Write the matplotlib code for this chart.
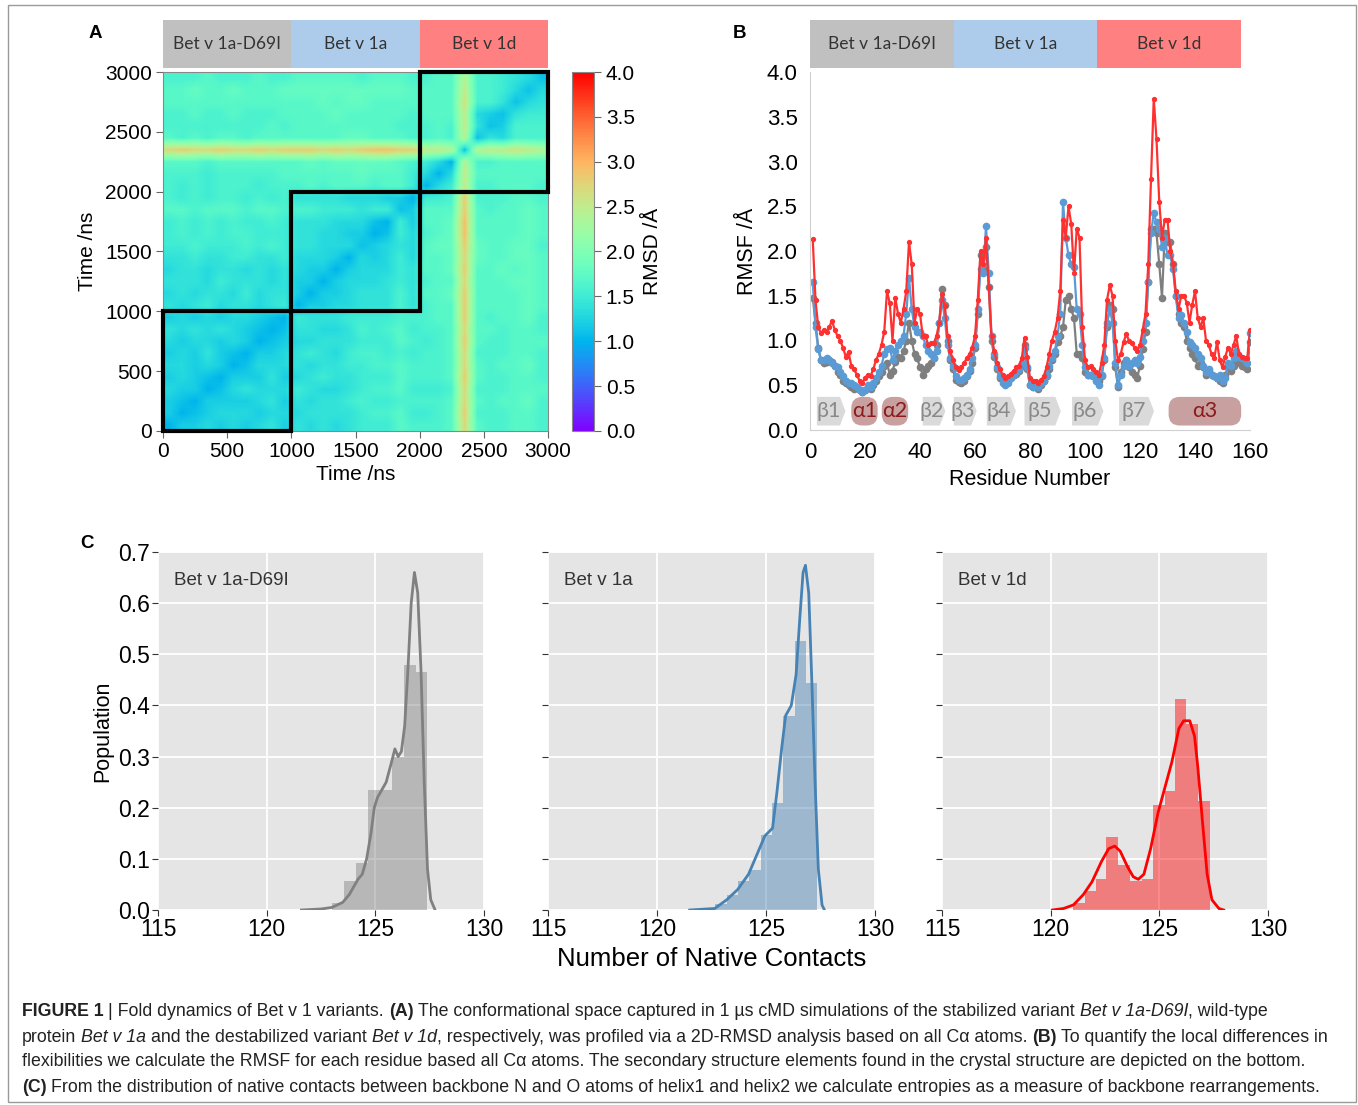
import numpy as np
import matplotlib
matplotlib.use('Agg')
import matplotlib.pyplot as plt
from matplotlib.patches import Rectangle, Polygon, FancyBboxPatch

plt.rcParams['font.family'] = ['Liberation Sans', 'DejaVu Sans']

W, H = 1358, 1105

# ---------------- data ----------------
variants = ['Bet v 1a-D69I', 'Bet v 1a', 'Bet v 1d']
header_colors = ['#C0C0C0', '#ADCBEA', '#FF8080']
block_starts = [0, 1000, 2000]      # ns, each run is 1000 ns
block_len = 1000

# 2D-RMSD, lower triangle, 100 ns bins, value in tenths of Angstrom (base-36 digit)
rmsd_rows = [
    "a",
    "ca",
    "cba",
    "dcca",
    "cdcba",
    "ddcdca",
    "cdcecba",
    "dcddcdca",
    "edededcba",
    "cdcdcddcba",
    "edefdeedef" + "a",
    "dedeedfdee" + "ca",
    "eeedfeeede" + "cca",
    "deedeedede" + "dcca",
    "eefeeffeef" + "dddca",
    "ffgfffgfgf" + "eedddb",
    "fgfgfggfff" + "eeddcca",
    "fgfgfgffgf" + "eeedddba",
    "hhghhhghhg" + "ggfffeffb",
    "gfgfggfgfg" + "eeeedddcca",
    "gfgfgggfgg" + "ghghhhghhf" + "a",
    "gggfgggggh" + "hhhhhihhhf" + "da",
    "hhhghhhhhh" + "hihiiiiihg" + "fda",
    "rsrrsrrsrs" + "ssrsrsttss" + "ppob",
    "hghghhghhh" + "hhhhiihhhg" + "ghgob",
    "gggggggghg" + "hhhhhhhhgg" + "ghgpeb",
    "gghgghgggh" + "hhhihhhhhg" + "hhhpdcb",
    "hhhhhhhhhh" + "hhihiihhhh" + "hhhqggeb",
    "hhihhihhhi" + "iiiiiiiiih" + "hhhpggfdb",
    "ggghggghgg" + "hhhhhghhhg" + "ghhoggfedb",
]

residues = list(range(1, 161))
rmsf_d69i = [1.48, 1.20, 0.92, 0.78, 0.75, 0.76, 0.78, 0.76, 0.72, 0.65,
             0.62, 0.55, 0.52, 0.50, 0.48, 0.46, 0.48, 0.45, 0.43, 0.45,
             0.48, 0.46, 0.50, 0.55, 0.60, 0.65, 0.72, 0.75, 0.62, 0.66,
             0.76, 0.82, 0.80, 0.88, 1.00, 1.20, 1.00, 0.85, 0.80, 0.70,
             0.62, 0.68, 0.72, 0.75, 0.80, 0.95, 1.20, 1.58, 1.40, 1.00,
             0.78, 0.68, 0.56, 0.54, 0.52, 0.55, 0.60, 0.66, 0.75, 0.92,
             1.30, 1.95, 1.80, 2.05, 1.60, 1.00, 0.82, 0.68, 0.58, 0.55,
             0.52, 0.55, 0.60, 0.62, 0.63, 0.66, 0.72, 0.95, 0.68, 0.50,
             0.48, 0.48, 0.46, 0.50, 0.55, 0.60, 0.68, 0.78, 0.85, 0.98,
             1.05, 1.15, 1.45, 1.50, 1.35, 1.25, 0.85, 0.85, 0.80, 0.65,
             0.62, 0.62, 0.60, 0.58, 0.55, 0.60, 0.78, 1.15, 1.40, 1.35,
             0.70, 0.48, 0.65, 0.75, 0.78, 0.70, 0.65, 0.62, 0.58, 0.72,
             0.90, 1.10, 1.65, 2.25, 2.25, 2.20, 1.85, 1.48, 2.20, 2.10,
             2.10, 1.85, 1.50, 1.30, 1.20, 1.15, 1.00, 0.92, 0.85, 0.80,
             0.72, 0.75, 0.70, 0.62, 0.66, 0.62, 0.60, 0.58, 0.55, 0.52,
             0.62, 0.70, 0.66, 0.72, 0.75, 0.78, 0.72, 0.70, 0.68, 0.98]
rmsf_1a = [1.65, 1.15, 0.90, 0.78, 0.78, 0.80, 0.78, 0.75, 0.72, 0.70,
           0.65, 0.60, 0.55, 0.52, 0.52, 0.50, 0.48, 0.45, 0.42, 0.45,
           0.50, 0.48, 0.52, 0.58, 0.65, 0.72, 0.85, 0.90, 0.92, 0.78,
           0.88, 0.95, 1.00, 1.05, 1.30, 1.70, 1.35, 1.15, 1.10, 1.10,
           1.05, 0.95, 0.88, 0.85, 0.80, 0.88, 1.20, 1.45, 1.25, 0.95,
           0.80, 0.72, 0.60, 0.56, 0.56, 0.58, 0.62, 0.68, 0.80, 0.95,
           1.35, 1.80, 1.75, 2.28, 1.75, 1.05, 0.85, 0.70, 0.60, 0.52,
           0.50, 0.52, 0.58, 0.62, 0.65, 0.68, 0.75, 0.92, 0.70, 0.50,
           0.48, 0.50, 0.48, 0.52, 0.55, 0.62, 0.72, 0.80, 0.88, 1.05,
           1.30, 2.55, 2.15, 1.95, 1.85, 1.82, 1.35, 1.30, 0.95, 0.70,
           0.62, 0.62, 0.60, 0.55, 0.50, 0.62, 0.80, 1.20, 1.35, 1.20,
           0.75, 0.50, 0.62, 0.72, 0.78, 0.72, 0.75, 0.78, 0.75, 0.82,
           1.00, 1.20, 1.65, 2.20, 2.42, 2.32, 2.25, 2.05, 2.15, 1.95,
           1.95, 1.80, 1.50, 1.25, 1.28, 1.20, 1.10, 0.98, 0.95, 0.92,
           0.85, 0.80, 0.72, 0.65, 0.68, 0.62, 0.60, 0.58, 0.62, 0.55,
           0.58, 0.75, 0.72, 0.80, 0.88, 0.82, 0.80, 0.78, 0.75, 1.08]
rmsf_1d = [2.13, 1.45, 1.15, 1.08, 1.12, 1.10, 1.15, 1.22, 1.12, 1.05,
           1.00, 0.92, 0.82, 0.87, 0.72, 0.68, 0.62, 0.55, 0.52, 0.58,
           0.62, 0.60, 0.68, 0.78, 0.85, 0.95, 1.10, 1.55, 1.42, 1.00,
           1.48, 1.30, 1.20, 1.35, 1.55, 2.10, 1.85, 1.20, 1.35, 1.30,
           1.05, 1.05, 0.95, 0.97, 0.97, 1.05, 1.20, 1.52, 1.38, 1.05,
           0.88, 0.78, 0.70, 0.67, 0.70, 0.75, 0.80, 0.85, 0.92, 1.05,
           1.45, 2.00, 1.85, 2.15, 1.60, 1.05, 0.88, 0.75, 0.68, 0.62,
           0.58, 0.60, 0.63, 0.66, 0.70, 0.72, 0.80, 1.03, 0.82, 0.58,
           0.55, 0.55, 0.52, 0.56, 0.60, 0.70, 0.85, 1.00, 1.10, 1.25,
           1.55, 2.35, 2.15, 2.50, 2.30, 1.75, 2.25, 2.15, 1.15, 0.78,
           0.70, 0.72, 0.68, 0.65, 0.62, 0.75, 0.95, 1.45, 1.62, 1.50,
           1.00, 0.78, 0.85, 0.98, 1.07, 1.00, 0.97, 0.92, 0.88, 0.95,
           1.12, 1.30, 1.85, 2.80, 3.70, 3.25, 2.55, 2.15, 2.35, 2.35,
           2.00, 1.85, 1.55, 1.35, 1.50, 1.50, 1.42, 1.20, 1.40, 1.55,
           1.25, 1.15, 1.25, 1.00, 0.95, 0.85, 0.80, 0.98, 0.78, 0.70,
           0.82, 0.92, 0.85, 0.95, 1.05, 0.85, 0.82, 0.80, 0.80, 1.12]
rmsf_colors = ['#7F7F7F', '#5B9BD5', '#FF3030']

# secondary structure elements (residue ranges)
ss_labels = ['β1', 'α1', 'α2', 'β2', 'β3', 'β4', 'β5', 'β6', 'β7', 'α3']
ss_start = [2.5, 15.0, 26.1, 41.0, 52.3, 64.3, 78.0, 95.3, 112.4, 130.4]
ss_end = [12.9, 24.6, 35.7, 49.2, 60.6, 74.9, 91.2, 106.7, 125.1, 156.8]

# native contact distributions (histogram + density curve)
hist_edges = [
    [123.0, 123.55, 124.1, 124.65, 125.2, 125.75, 126.3, 126.85, 127.4],
    [121.63, 122.15, 122.67, 123.19, 123.71, 124.23, 124.75, 125.27, 125.79, 126.31, 126.83, 127.35],
    [121.05, 121.6, 122.1, 122.56, 123.1, 123.64, 124.18, 124.72, 125.24, 125.74, 126.23, 126.77, 127.31],
]
hist_heights = [
    [0.013, 0.056, 0.092, 0.235, 0.235, 0.30, 0.48, 0.465],
    [0.002, 0.004, 0.011, 0.030, 0.056, 0.078, 0.146, 0.21, 0.38, 0.526, 0.443],
    [0.013, 0.038, 0.061, 0.142, 0.088, 0.056, 0.060, 0.206, 0.233, 0.412, 0.364, 0.214],
]
kde_x = [
    [121.6, 122.5, 123.0, 123.5, 123.8, 124.0, 124.2, 124.4, 124.6, 124.8, 124.95, 125.1, 125.3,
     125.5, 125.75, 125.9, 126.05, 126.2, 126.35, 126.5, 126.65, 126.8, 126.95, 127.1, 127.25,
     127.4, 127.55, 127.75],
    [121.5, 122.65, 123.2, 123.7, 124.2, 124.6, 124.95, 125.3, 125.5, 125.73, 125.9, 126.16,
     126.38, 126.55, 126.7, 126.81, 126.96, 127.1, 127.25, 127.4, 127.57, 127.68],
    [120.08, 120.6, 121.05, 121.5, 121.9, 122.34, 122.67, 122.95, 123.2, 123.53, 123.8, 124.03,
     124.29, 124.6, 124.94, 125.26, 125.58, 125.9, 126.12, 126.4, 126.62, 126.77, 126.99, 127.2,
     127.42, 127.74, 127.96],
]
kde_y = [
    [0.0, 0.002, 0.005, 0.015, 0.03, 0.045, 0.06, 0.07, 0.10, 0.15, 0.20, 0.22, 0.235,
     0.25, 0.29, 0.315, 0.30, 0.31, 0.36, 0.47, 0.60, 0.66, 0.62, 0.47, 0.25,
     0.08, 0.02, 0.0],
    [0.0, 0.003, 0.02, 0.04, 0.07, 0.11, 0.145, 0.16, 0.23, 0.32, 0.38, 0.40,
     0.46, 0.57, 0.66, 0.674, 0.62, 0.45, 0.25, 0.08, 0.01, 0.0],
    [0.0, 0.003, 0.01, 0.03, 0.055, 0.095, 0.12, 0.125, 0.115, 0.085, 0.065, 0.06,
     0.07, 0.12, 0.19, 0.24, 0.29, 0.355, 0.37, 0.37, 0.34, 0.28, 0.17, 0.07,
     0.02, 0.003, 0.0],
]
dist_colors = ['#808080', '#4682B4', '#FF0000']
dist_alpha = [0.45, 0.45, 0.45]

# ---------------- figure ----------------
fig = plt.figure(figsize=(W / 100, H / 100), dpi=100)


def box(l, t, r, b):
    return [l / W, 1 - b / H, (r - l) / W, (b - t) / H]


fig.patches.append(Rectangle((8 / W, 3 / H), 1348 / W, 1097 / H, transform=fig.transFigure,
                             fill=False, ec='#9A9A9A', lw=1.0))

# ---- panel A: 2D RMSD ----
n = len(rmsd_rows)
M = np.zeros((n, n))
for i, row in enumerate(rmsd_rows):
    for j, ch in enumerate(row):
        M[i, j] = M[j, i] = int(ch, 36) / 10.0

axA = fig.add_axes(box(163, 72, 548, 431))
im = axA.imshow(M, cmap='rainbow', vmin=0, vmax=4, origin='lower',
                extent=[0, 3000, 0, 3000], aspect='auto', interpolation='bilinear')
for s in block_starts:
    axA.add_patch(Rectangle((s, s), block_len, block_len, fill=False, ec='black', lw=3,
                            clip_on=False, zorder=5))
axA.set_xlim(0, 3000)
axA.set_ylim(0, 3000)
axA.set_xticks(range(0, 3001, 500))
axA.set_yticks(range(0, 3001, 500))
axA.tick_params(labelsize=15, length=5, color='#666', pad=3)
for sp in axA.spines.values():
    sp.set_color('#888')
axA.set_xlabel('Time /ns', fontsize=15, labelpad=3)
axA.set_ylabel('Time /ns', fontsize=15, labelpad=6)

cax = fig.add_axes(box(572, 72, 594, 431))
cb = fig.colorbar(im, cax=cax)
cb.set_ticks(np.arange(0, 4.01, 0.5))
cb.ax.set_yticklabels(['%.1f' % v for v in np.arange(0, 4.01, 0.5)])
cb.ax.tick_params(labelsize=15, length=5, color='#666')
cb.outline.set_edgecolor('#888')
cb.set_label('RMSD /Å', fontsize=15, labelpad=6)

hA = fig.add_axes(box(163, 20, 548, 68))
hA.bar(block_starts, 1, width=block_len, align='edge', color=header_colors, lw=0)
for s, name in zip(block_starts, variants):
    hA.text(s + block_len / 2, 0.5, name, ha='center', va='center', fontsize=12.5,
            color='#333333', family=['Lato', 'DejaVu Sans'])
hA.set_xlim(0, 3000)
hA.set_ylim(0, 1)
hA.axis('off')

# ---- panel B: RMSF ----
axB = fig.add_axes(box(810, 72, 1250, 430))
for vals, col, ms in zip([rmsf_d69i, rmsf_1a, rmsf_1d], rmsf_colors, [4.5, 4.5, 2.8]):
    axB.plot(residues, vals, '-o', color=col, lw=1.6, ms=ms, mec=col)
y0, y1 = 0.05, 0.37
for lab, a, b in zip(ss_labels, ss_start, ss_end):
    if lab.startswith('β'):
        tip = 2.0
        axB.add_patch(Polygon([(a, y0), (b - tip, y0), (b, (y0 + y1) / 2), (b - tip, y1), (a, y1)],
                              closed=True, fc='#DADADA', ec='none', zorder=3))
        axB.text((a + b - tip) / 2, (y0 + y1) / 2, lab, ha='center', va='center',
                 fontsize=15.5, color='#8A8A8A', zorder=4, family=['Lato', 'DejaVu Sans'])
    else:
        axB.add_patch(FancyBboxPatch((a, y0), b - a, y1 - y0,
                                     boxstyle='round,pad=0,rounding_size=4',
                                     mutation_aspect=0.032, fc='#C9A0A0', ec='none', zorder=3))
        axB.text((a + b) / 2, (y0 + y1) / 2, lab, ha='center', va='center',
                 fontsize=15.5, color='#8B1A1A', zorder=4, family=['Lato', 'DejaVu Sans'])
axB.set_xlim(0, 160)
axB.set_ylim(0, 4)
axB.set_xticks(range(0, 161, 20))
axB.set_yticks(np.arange(0, 4.01, 0.5))
axB.set_yticklabels(['%.1f' % v for v in np.arange(0, 4.01, 0.5)])
axB.tick_params(labelsize=16, length=0, pad=9)
for k in ['top', 'right']:
    axB.spines[k].set_visible(False)
for k in ['left', 'bottom']:
    axB.spines[k].set_color('#D0D0D0')
axB.set_xlabel('Residue Number', fontsize=15.5, labelpad=4)
axB.set_ylabel('RMSF /Å', fontsize=15.5, labelpad=6)

hB = fig.add_axes(box(810, 20, 1241, 68))
hB.bar([0, 1, 2], 1, width=1, align='edge', color=header_colors, lw=0)
for k, name in enumerate(variants):
    hB.text(k + 0.5, 0.5, name, ha='center', va='center', fontsize=12.5,
            color='#333333', family=['Lato', 'DejaVu Sans'])
hB.set_xlim(0, 3)
hB.set_ylim(0, 1)
hB.axis('off')

# ---- panel C: native contacts ----
c_lefts = [(158, 484), (548, 875), (942, 1268)]
axesC = []
for k, (l, r) in enumerate(c_lefts):
    ax = fig.add_axes(box(l, 552, r, 910))
    ax.set_facecolor('#E5E5E5')
    ax.grid(True, color='white', lw=1.3)
    ax.set_axisbelow(True)
    e = hist_edges[k]
    ax.bar(e[:-1], hist_heights[k], width=np.diff(e), align='edge',
           color=dist_colors[k], alpha=dist_alpha[k], lw=0)
    ax.plot(kde_x[k], kde_y[k], color=dist_colors[k], lw=2)
    ax.set_xlim(115, 130)
    ax.set_ylim(0, 0.7)
    ax.set_xticks([115, 120, 125, 130])
    ax.set_yticks(np.arange(0, 0.71, 0.1))
    ax.set_yticklabels(['%.1f' % v for v in np.arange(0, 0.71, 0.1)])
    for sp in ax.spines.values():
        sp.set_visible(False)
    ax.tick_params(labelsize=16.5, length=4, color='#333', pad=2)
    if k > 0:
        ax.tick_params(labelleft=False)
    ax.text(0.05, 0.92, variants[k], transform=ax.transAxes, ha='left', va='center',
            fontsize=13.5, color='#333333')
    axesC.append(ax)
axesC[0].set_ylabel('Population', fontsize=15.5, labelpad=3)
axesC[1].set_xlabel('Number of Native Contacts', fontsize=18.5, labelpad=4)

# panel letters
for lab, x, y in [('A', 95, 33), ('B', 740, 33), ('C', 87, 543)]:
    fig.text(x / W, 1 - y / H, lab, fontsize=13.5, fontweight='bold', ha='center', va='center')

# ---- caption ----
cap_font = ['Liberation Sans', 'DejaVu Sans']
caption = [
    [('FIGURE 1', 'bold'), (' | Fold dynamics of Bet v 1 variants. ', 'normal'), ('(A)', 'bold'),
     (' The conformational space captured in 1 µs cMD simulations of the stabilized variant ', 'normal'),
     ('Bet v 1a-D69I', 'italic'), (', wild-type', 'normal')],
    [('protein ', 'normal'), ('Bet v 1a', 'italic'), (' and the destabilized variant ', 'normal'),
     ('Bet v 1d', 'italic'),
     (', respectively, was profiled via a 2D-RMSD analysis based on all Cα atoms. ', 'normal'),
     ('(B)', 'bold'), (' To quantify the local differences in', 'normal')],
    [('flexibilities we calculate the RMSF for each residue based all Cα atoms. The secondary '
      'structure elements found in the crystal structure are depicted on the bottom.', 'normal')],
    [('(C)', 'bold'), (' From the distribution of native contacts between backbone N and O atoms of '
                       'helix1 and helix2 we calculate entropies as a measure of backbone rearrangements.',
                       'normal')],
]
renderer = fig.canvas.get_renderer()


def text_width(s, style, size):
    t = fig.text(0, 0, s, fontsize=size, family=cap_font,
                 fontweight='bold' if style == 'bold' else 'normal',
                 fontstyle='italic' if style == 'italic' else 'normal')
    w = t.get_window_extent(renderer).width
    t.remove()
    return w


def line_layout(runs, size):
    sp = text_width('a a', 'normal', size) - text_width('aa', 'normal', size)
    x = 0.0
    out = []
    for s, style in runs:
        lead = len(s) - len(s.lstrip(' '))
        trail = len(s) - len(s.rstrip(' '))
        core = s.strip(' ')
        x += lead * sp
        out.append((x, core, style))
        x += text_width(core, style, size) + trail * sp
    return out, x


# fit the caption to the reference widths (line 2 ends ~1328 px, line 4 ~1340 px)
base = 12.0
_, w2 = line_layout(caption[1], base)
_, w4 = line_layout(caption[3], base)
cap_size = base * min(1306.0 / w2, 1318.0 / w4)
for li, runs in enumerate(caption):
    yc = 1 - (1012 + 25 * li) / H
    items, _ = line_layout(runs, cap_size)
    for x, core, style in items:
        fig.text((22 + x) / W, yc, core, fontsize=cap_size, family=cap_font, va='center', ha='left',
                 fontweight='bold' if style == 'bold' else 'normal',
                 fontstyle='italic' if style == 'italic' else 'normal', color='#222222')

fig.savefig('out.png', dpi=100)
